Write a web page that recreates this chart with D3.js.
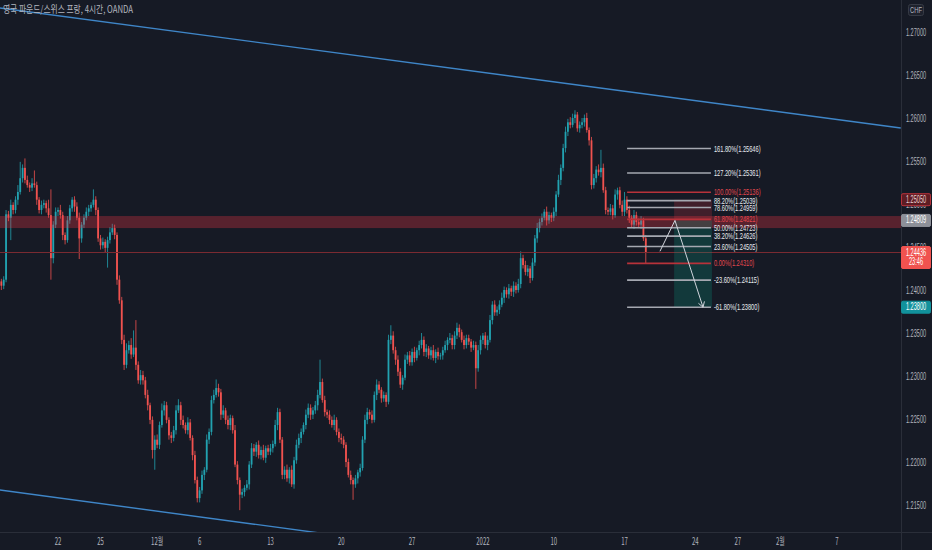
<!DOCTYPE html>
<html><head><meta charset="utf-8">
<script src="https://cdn.jsdelivr.net/npm/d3@7"></script>
<style>html,body{margin:0;padding:0;background:#161a25;overflow:hidden}svg{display:block}</style>
</head><body><svg id="c" width="932" height="550"></svg>
<script>
// ---- DATA (4-hour bars, 6 per trading day, first bar 4 trading days before Mon Nov 22) ----
const firstOpen = 1.2410;
const closes = [
1.2405,1.2412,1.2488,1.2484,1.2499,1.2493,
1.2505,1.2514,1.2530,1.2542,1.2528,1.2522,
1.2519,1.2524,1.2522,1.2505,1.2493,1.2499,
1.2501,1.2495,1.2487,1.2437,1.2476,1.2491,
1.2493,1.2487,1.2464,1.2458,1.2481,1.2495,
1.2505,1.2497,1.2484,1.2460,1.2476,1.2484,
1.2491,1.2495,1.2499,1.2505,1.2493,1.2460,
1.2452,1.2456,1.2449,1.2458,1.2467,1.2472,
1.2464,1.2412,1.2388,1.2342,1.2313,1.2330,
1.2336,1.2325,1.2333,1.2313,1.2295,1.2301,
1.2295,1.2278,1.2266,1.2249,1.2214,1.2226,
1.2220,1.2243,1.2260,1.2266,1.2249,1.2231,
1.2228,1.2237,1.2260,1.2266,1.2249,1.2243,
1.2237,1.2246,1.2228,1.2208,1.2179,1.2158,
1.2167,1.2185,1.2191,1.2226,1.2235,1.2272,
1.2278,1.2286,1.2281,1.2255,1.2260,1.2249,
1.2243,1.2251,1.2237,1.2197,1.2179,1.2162,
1.2165,1.2170,1.2174,1.2197,1.2216,1.2212,
1.2220,1.2208,1.2214,1.2205,1.2216,1.2212,
1.2216,1.2221,1.2243,1.2258,1.2226,1.2185,
1.2191,1.2181,1.2191,1.2174,1.2202,1.2220,
1.2228,1.2235,1.2243,1.2255,1.2263,1.2255,
1.2260,1.2266,1.2278,1.2293,1.2272,1.2258,
1.2255,1.2249,1.2243,1.2249,1.2235,1.2228,
1.2226,1.2220,1.2200,1.2185,1.2179,1.2174,
1.2181,1.2188,1.2193,1.2226,1.2249,1.2258,
1.2255,1.2249,1.2278,1.2290,1.2284,1.2274,
1.2278,1.2270,1.2342,1.2347,1.2330,1.2319,
1.2305,1.2290,1.2298,1.2319,1.2324,1.2316,
1.2328,1.2321,1.2330,1.2336,1.2342,1.2328,
1.2332,1.2324,1.2330,1.2321,1.2328,1.2323,
1.2324,1.2330,1.2336,1.2342,1.2344,1.2336,
1.2347,1.2356,1.2351,1.2342,1.2336,1.2344,
1.2340,1.2333,1.2336,1.2309,1.2330,1.2342,
1.2347,1.2336,1.2342,1.2365,1.2383,1.2374,
1.2377,1.2383,1.2391,1.2400,1.2395,1.2402,
1.2398,1.2405,1.2400,1.2407,1.2437,1.2429,
1.2421,1.2425,1.2414,1.2432,1.2460,1.2472,
1.2479,1.2484,1.2491,1.2481,1.2487,1.2484,
1.2491,1.2511,1.2528,1.2542,1.2565,1.2584,
1.2595,1.2592,1.2600,1.2604,1.2588,1.2592,
1.2595,1.2600,1.2586,1.2574,1.2522,1.2530,
1.2540,1.2537,1.2542,1.2516,1.2493,1.2491,
1.2495,1.2487,1.2511,1.2516,1.2499,1.2491,
1.2505,1.2493,1.2484,1.2476,1.2487,1.2479,
1.2476,1.2481,1.2460,1.24436
];
// wick lengths above / below the body, in pips (0.0001)
const upperWickPips = [
3,4,5,4,6,3, 4,8,19,4,11,5, 3,6,15,4,3,5, 4,3,10,30,4,5, 3,6,4,3,5,4, 3,4,5,6,3,4,
5,4,3,12,4,3, 4,5,3,4,6,5, 4,3,5,4,6,8, 5,8,20,32,4,6, 5,4,6,3,4,5, 6,4,8,5,4,3,
4,5,6,7,4,5, 3,6,4,3,5,4, 4,5,3,6,4,5, 6,10,5,4,6,3, 5,4,3,6,4,3, 4,3,5,4,6,5,
3,5,4,6,3,4, 5,4,6,5,4,3, 4,6,3,5,4,6, 5,4,3,6,5,4, 4,5,6,26,4,5, 3,5,4,6,3,4,
5,4,3,4,5,3, 4,3,5,4,6,5, 3,5,4,6,4,3, 4,3,6,12,5,4, 5,4,3,6,4,5, 4,6,3,5,8,4,
5,3,4,6,3,5, 3,4,5,3,6,4, 5,6,4,3,5,4, 4,3,5,4,6,5, 3,4,5,6,4,5, 4,5,6,4,3,5,
3,5,4,6,8,4, 5,4,3,5,4,6, 4,5,3,6,4,3, 5,4,6,4,5,6, 4,6,5,5,3,4, 5,4,6,3,4,5,
4,6,21,5,4,3, 5,4,6,3,4,5, 9,4,5,3,6,4, 4,5,3,4
];
const lowerWickPips = [
5,4,3,4,26,5, 4,6,3,5,4,3, 5,4,3,6,4,5, 4,5,3,25,6,4, 5,4,6,5,3,4, 4,6,3,24,5,4,
3,5,4,3,6,4, 5,4,6,23,4,3, 5,6,4,5,6,4, 4,5,3,6,4,5, 5,4,6,5,10,23, 4,5,3,6,4,5,
6,4,5,3,6,4, 4,5,3,6,4,5, 5,4,6,3,5,4, 4,3,5,6,4,5, 5,6,4,3,5,18, 4,5,3,6,4,5,
6,4,5,3,6,4, 4,5,3,6,4,5, 5,4,6,3,5,4, 4,6,3,5,4,6, 5,4,6,4,3,5, 4,5,3,6,4,5,
5,4,6,3,5,18, 4,6,5,3,4,5, 5,4,3,6,4,5, 4,6,3,5,4,6, 5,4,6,3,5,4, 4,5,3,6,4,5,
6,4,5,3,6,4, 4,5,3,6,4,5, 5,4,6,3,5,4, 4,5,3,24,4,5, 5,4,6,3,5,4, 4,5,3,6,4,5,
5,6,4,3,5,4, 4,5,6,3,4,5, 5,4,3,6,4,5, 4,5,3,6,4,5, 5,4,3,6,4,5, 4,5,3,6,5,4,
5,4,6,3,5,4, 4,5,3,6,4,5, 5,4,6,3,5,4, 4,5,3,13
];
const barsPerDay = 6;
const firstBarDay = -4;          // trading days relative to Mon Nov 22 2021

const priceTicks = [1.215,1.22,1.225,1.23,1.235,1.24,1.245,1.25,1.255,1.26,1.265,1.27];
const dateTickDays   = [0,3,7,10,15,20,25,30,35,40,45,48,51,55];
const dateTickLabels = ["22","25","12월","6","13","20","27","2022","10","17","24","27","2월","7"];

const fibLevels = [161.8,127.2,100,88.2,78.6,61.8,50,38.2,23.6,0,-23.6,-61.8];
const fibPrices = [1.25646,1.25361,1.25136,1.25039,1.24959,1.24821,1.24723,1.24626,1.24505,1.24310,1.24115,1.23800];
const fibRedLevels = [100,61.8,0];
const fibDays = [40.18,46.1];

const zonePrices = [1.2486,1.2472];
const lastPrice = 1.24436;
const countdown = "23:46";
const stopPrice = 1.25050, entryPrice = 1.24809, targetPrice = 1.23800;
const positionDays = [43.5,46.17];
const pathDays = [42.5,43.56,45.54];
const pathPrices = [1.2445,1.24809,1.2380];

const upperLineDays = [-4.1,59.5], upperLinePrices = [1.27279,1.25884];
const lowerLineDays = [-4.1,59.5], lowerLinePrices = [1.21674,1.20267];

const title = "영국 파운드/스위스 프랑, 4시간, OANDA";

// ---- DRAW ----
const W=932,H=550,PW=901,PH=532;
const svg=d3.select("#c");
const x=d3.scaleLinear().domain([0,55]).range([58,837]);
const y=d3.scaleLinear().domain([1.215,1.27]).range([505,32]);
const UP="#22a2b0", DOWN="#f0524f";
const FONT="'Liberation Sans', Arial, sans-serif";

svg.append("rect").attr("width",W).attr("height",H).attr("fill","#161a25");
svg.append("defs").append("clipPath").attr("id","plot").append("rect").attr("width",PW).attr("height",PH);
const plot=svg.append("g").attr("clip-path","url(#plot)");

// narrow text: placed at (tx,ty), horizontally scaled by k
function ntext(parent,tx,ty,str,k,size,fill,anchor,family){
  return parent.append("text").attr("transform",`translate(${tx},${ty}) scale(${k},1)`)
    .attr("text-anchor",anchor||"start").attr("font-family",family||FONT).attr("font-size",size).attr("fill",fill).text(str);
}

// channel lines
const line=d3.line().x(d=>x(d[0])).y(d=>y(d[1]));
plot.append("path").attr("d",line(d3.zip(upperLineDays,upperLinePrices))).attr("stroke","#3f86c8").attr("stroke-width",1.4).attr("fill","none");
plot.append("path").attr("d",line(d3.zip(lowerLineDays,lowerLinePrices))).attr("stroke","#3f86c8").attr("stroke-width",1.4).attr("fill","none");

// candles
const bars=closes.map((c,i)=>{const o=i?closes[i-1]:firstOpen;return{d:firstBarDay+i/barsPerDay,o,c,h:Math.max(o,c)+upperWickPips[i]*1e-4,l:Math.min(o,c)-lowerWickPips[i]*1e-4};});
const cg=plot.append("g");
cg.selectAll("line").data(bars).join("line")
 .attr("x1",d=>x(d.d)).attr("x2",d=>x(d.d)).attr("y1",d=>y(d.h)).attr("y2",d=>y(d.l))
 .attr("stroke",d=>d.c>=d.o?UP:DOWN).attr("stroke-width",0.8);
cg.selectAll("rect").data(bars).join("rect")
 .attr("x",d=>x(d.d)-0.9).attr("width",1.8)
 .attr("y",d=>y(Math.max(d.o,d.c))).attr("height",d=>Math.max(1,Math.abs(y(d.o)-y(d.c))))
 .attr("fill",d=>d.c>=d.o?UP:DOWN);

// zone band
plot.append("rect").attr("x",0).attr("width",PW).attr("y",y(zonePrices[0])).attr("height",y(zonePrices[1])-y(zonePrices[0])).attr("fill","rgba(242,54,69,0.3)");
// last price line
plot.append("line").attr("x1",0).attr("x2",PW).attr("y1",y(lastPrice)).attr("y2",y(lastPrice)).attr("stroke","#7a2a31").attr("stroke-width",1);

// short position
const px0=x(positionDays[0]),px1=x(positionDays[1]);
plot.append("rect").attr("x",px0).attr("width",px1-px0).attr("y",y(stopPrice)).attr("height",y(entryPrice)-y(stopPrice)).attr("fill","rgba(242,54,69,0.2)");
plot.append("rect").attr("x",px0).attr("width",px1-px0).attr("y",y(entryPrice)).attr("height",y(targetPrice)-y(entryPrice)).attr("fill","rgba(8,153,129,0.25)");

// fib
const fx0=x(fibDays[0]),fx1=x(fibDays[1]);
const fg=plot.append("g");
fibLevels.forEach((lv,k)=>{
  const red=fibRedLevels.includes(lv);
  const yy=y(fibPrices[k]);
  fg.append("line").attr("x1",fx0).attr("x2",fx1).attr("y1",yy).attr("y2",yy).attr("stroke",red?"#b8323a":"#a5a8b1").attr("stroke-width",1.6);
  ntext(fg,fx1+3,yy+3.1,lv.toFixed(2)+"%("+fibPrices[k].toFixed(5)+")",0.63,9,red?"#e5484f":"#e8eaf0");
});

// path with arrow
const pts=d3.zip(pathDays,pathPrices).map(p=>[x(p[0]),y(p[1])]);
plot.append("path").attr("d",d3.line()(pts)).attr("stroke","#d1d4dc").attr("stroke-width",1).attr("fill","none");
{const a=pts[pts.length-1],b=pts[pts.length-2];const ang=Math.atan2(a[1]-b[1],a[0]-b[0]);
 [-0.55,0.55].forEach(s=>{plot.append("line").attr("x1",a[0]).attr("y1",a[1]).attr("x2",a[0]-6*Math.cos(ang+s)).attr("y2",a[1]-6*Math.sin(ang+s)).attr("stroke","#d1d4dc").attr("stroke-width",1);});}

// separators
svg.append("line").attr("x1",PW+0.5).attr("x2",PW+0.5).attr("y1",0).attr("y2",H).attr("stroke","#2a2e39");
svg.append("line").attr("x1",0).attr("x2",W).attr("y1",PH+0.5).attr("y2",PH+0.5).attr("stroke","#2a2e39");

// price axis
const ax=svg.append("g");
priceTicks.forEach(p=>{ ntext(ax,916,y(p)+3.5,p.toFixed(5),0.56,10,"#b2b5be","middle"); });
function tag(p,fill,stroke,txtColor,lines){
  const yy=y(p), h=lines.length>1?22:12, top=yy-6;
  ax.append("rect").attr("x",901.5).attr("y",top).attr("width",29).attr("height",h).attr("rx",1.5).attr("fill",fill).attr("stroke",stroke);
  lines.forEach((s,k)=>ntext(ax,916,top+9+k*9.5,s,0.56,10,txtColor,"middle"));
}
tag(stopPrice,"#5e1d24","#b8323a","#e8d0d2",[stopPrice.toFixed(5)]);
tag(entryPrice,"#8d9099","#8d9099","#ffffff",[entryPrice.toFixed(5)]);
tag(targetPrice,"#12929c","#12929c","#ffffff",[targetPrice.toFixed(5)]);
tag(lastPrice,"#f0524f","#f0524f","#ffffff",[lastPrice.toFixed(5),countdown]);

// CHF box
ax.append("rect").attr("x",908.5).attr("y",4.5).attr("width",15).attr("height",11).attr("rx",2).attr("fill","#1e222d").attr("stroke","#363a45");
ntext(ax,916,12.8,"CHF",0.65,9,"#b2b5be","middle");

// date axis
dateTickDays.forEach((d,k)=>{ ntext(svg,x(d),545,dateTickLabels[k],0.6,10,"#b2b5be","middle","'Noto Sans CJK KR', "+FONT); });

// title
svg.append("text").attr("x",3).attr("y",13).attr("font-family","'Noto Sans CJK KR', sans-serif").attr("font-size",10).attr("fill","#b2b5be")
  .attr("textLength",130).attr("lengthAdjust","spacingAndGlyphs").text(title);
</script></body></html>
